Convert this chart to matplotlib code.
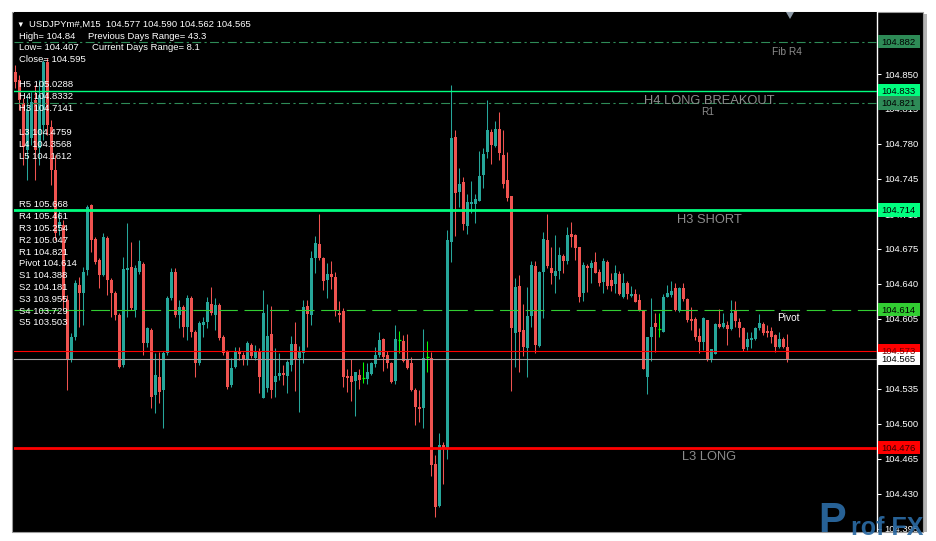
import matplotlib
matplotlib.use("Agg")
import matplotlib.pyplot as plt
import matplotlib.transforms as mtransforms
from matplotlib.patches import Rectangle, Polygon
import numpy as np

# ---------------- data (USDJPYm#, M15) ----------------
opens = [104.852, 104.844, 104.821, 104.774, 104.786, 104.824, 104.776, 104.799, 104.862, 104.797,
         104.754, 104.698, 104.699, 104.624, 104.564, 104.587, 104.639, 104.631, 104.654, 104.719,
         104.685, 104.664, 104.649, 104.686, 104.644, 104.631, 104.609, 104.559, 104.654, 104.657,
         104.614, 104.652, 104.660, 104.581, 104.594, 104.529, 104.547, 104.534, 104.571, 104.626,
         104.652, 104.609, 104.617, 104.597, 104.626, 104.592, 104.561, 104.599, 104.602, 104.620,
         104.609, 104.619, 104.587, 104.572, 104.539, 104.557, 104.573, 104.569, 104.564, 104.579,
         104.566, 104.573, 104.526, 104.536, 104.590, 104.542, 104.548, 104.551, 104.548, 104.559,
         104.580, 104.566, 104.571, 104.618, 104.609, 104.666, 104.680, 104.666, 104.644, 104.650,
         104.647, 104.611, 104.613, 104.548, 104.548, 104.543, 104.549, 104.546, 104.545, 104.550,
         104.560, 104.569, 104.585, 104.569, 104.561, 104.543, 104.584, 104.583, 104.565, 104.561,
         104.534, 104.517, 104.516, 104.567, 104.566, 104.460, 104.418, 104.479, 104.476, 104.682,
         104.787, 104.732, 104.742, 104.698, 104.720, 104.720, 104.723, 104.749, 104.772, 104.792,
         104.778, 104.795, 104.769, 104.744, 104.728, 104.591, 104.638, 104.594, 104.576, 104.608,
         104.658, 104.578, 104.652, 104.684, 104.656, 104.648, 104.653, 104.668, 104.663, 104.690,
         104.689, 104.677, 104.631, 104.658, 104.656, 104.662, 104.652, 104.642, 104.662, 104.644,
         104.640, 104.650, 104.627, 104.641, 104.628, 104.630, 104.624, 104.613, 104.547, 104.587,
         104.601, 104.595, 104.592, 104.627, 104.629, 104.636, 104.613, 104.636, 104.625, 104.605,
         104.605, 104.588, 104.582, 104.604, 104.564, 104.570, 104.600, 104.597, 104.599, 104.595,
         104.613, 104.602, 104.596, 104.577, 104.584, 104.585, 104.596, 104.600, 104.593, 104.593,
         104.589, 104.577, 104.585, 104.577]
highs = [104.859, 104.849, 104.826, 104.829, 104.832, 104.839, 104.844, 104.864, 104.866, 104.804,
         104.769, 104.714, 104.704, 104.629, 104.591, 104.644, 104.647, 104.657, 104.719, 104.720,
         104.687, 104.666, 104.691, 104.688, 104.646, 104.633, 104.611, 104.667, 104.701, 104.682,
         104.659, 104.684, 104.662, 104.597, 104.596, 104.571, 104.572, 104.573, 104.628, 104.656,
         104.656, 104.624, 104.619, 104.629, 104.628, 104.594, 104.603, 104.607, 104.627, 104.637,
         104.626, 104.621, 104.589, 104.574, 104.566, 104.577, 104.577, 104.572, 104.583, 104.581,
         104.579, 104.576, 104.634, 104.620, 104.618, 104.576, 104.571, 104.559, 104.564, 104.588,
         104.602, 104.578, 104.624, 104.624, 104.673, 104.688, 104.710, 104.667, 104.661, 104.663,
         104.652, 104.623, 104.616, 104.555, 104.565, 104.552, 104.555, 104.562, 104.561, 104.562,
         104.577, 104.592, 104.586, 104.573, 104.562, 104.599, 104.593, 104.589, 104.590, 104.567,
         104.536, 104.534, 104.595, 104.583, 104.572, 104.469, 104.491, 104.482, 104.694, 104.839,
         104.794, 104.756, 104.747, 104.730, 104.743, 104.730, 104.773, 104.776, 104.824, 104.795,
         104.803, 104.812, 104.794, 104.772, 104.728, 104.646, 104.649, 104.620, 104.637, 104.663,
         104.663, 104.653, 104.692, 104.710, 104.677, 104.689, 104.677, 104.670, 104.697, 104.702,
         104.690, 104.677, 104.662, 104.660, 104.664, 104.672, 104.655, 104.666, 104.664, 104.651,
         104.659, 104.653, 104.651, 104.643, 104.638, 104.635, 104.630, 104.613, 104.587, 104.626,
         104.611, 104.611, 104.630, 104.639, 104.643, 104.641, 104.637, 104.641, 104.626, 104.617,
         104.607, 104.596, 104.607, 104.604, 104.575, 104.601, 104.615, 104.611, 104.603, 104.624,
         104.623, 104.606, 104.597, 104.592, 104.592, 104.597, 104.610, 104.602, 104.599, 104.597,
         104.590, 104.592, 104.587, 104.590]
lows = [104.836, 104.814, 104.759, 104.744, 104.779, 104.744, 104.759, 104.784, 104.789, 104.739,
        104.684, 104.689, 104.614, 104.534, 104.562, 104.584, 104.597, 104.599, 104.649, 104.672,
        104.660, 104.636, 104.648, 104.629, 104.607, 104.604, 104.556, 104.557, 104.607, 104.614,
        104.607, 104.650, 104.569, 104.577, 104.516, 104.511, 104.521, 104.496, 104.569, 104.624,
        104.607, 104.596, 104.587, 104.584, 104.587, 104.547, 104.559, 104.587, 104.596, 104.609,
        104.594, 104.584, 104.569, 104.535, 104.537, 104.556, 104.564, 104.559, 104.559, 104.566,
        104.564, 104.531, 104.526, 104.532, 104.526, 104.527, 104.544, 104.539, 104.531, 104.553,
        104.533, 104.512, 104.561, 104.577, 104.599, 104.651, 104.664, 104.634, 104.626, 104.635,
        104.608, 104.602, 104.537, 104.532, 104.523, 104.508, 104.535, 104.541, 104.540, 104.549,
        104.557, 104.567, 104.553, 104.556, 104.541, 104.540, 104.571, 104.562, 104.555, 104.533,
        104.499, 104.502, 104.496, 104.552, 104.448, 104.407, 104.417, 104.440, 104.465, 104.662,
        104.688, 104.717, 104.694, 104.690, 104.711, 104.701, 104.723, 104.736, 104.766, 104.760,
        104.777, 104.764, 104.736, 104.723, 104.533, 104.557, 104.552, 104.568, 104.547, 104.597,
        104.571, 104.577, 104.606, 104.656, 104.640, 104.631, 104.645, 104.651, 104.660, 104.677,
        104.664, 104.622, 104.623, 104.632, 104.641, 104.651, 104.638, 104.631, 104.635, 104.633,
        104.631, 104.629, 104.626, 104.625, 104.627, 104.622, 104.613, 104.555, 104.530, 104.563,
        104.572, 104.587, 104.592, 104.627, 104.627, 104.613, 104.612, 104.623, 104.602, 104.594,
        104.584, 104.571, 104.574, 104.563, 104.562, 104.570, 104.596, 104.596, 104.579, 104.594,
        104.597, 104.587, 104.573, 104.574, 104.576, 104.584, 104.594, 104.589, 104.587, 104.581,
        104.572, 104.576, 104.576, 104.562]
closes = [104.842, 104.824, 104.777, 104.814, 104.822, 104.774, 104.829, 104.862, 104.799, 104.754,
          104.691, 104.702, 104.624, 104.564, 104.587, 104.641, 104.631, 104.652, 104.717, 104.684,
          104.662, 104.649, 104.687, 104.644, 104.631, 104.609, 104.557, 104.655, 104.656, 104.616,
          104.656, 104.663, 104.581, 104.596, 104.527, 104.549, 104.532, 104.571, 104.626, 104.652,
          104.609, 104.617, 104.597, 104.626, 104.592, 104.561, 104.601, 104.602, 104.622, 104.611,
          104.619, 104.586, 104.571, 104.537, 104.556, 104.572, 104.570, 104.565, 104.581, 104.568,
          104.573, 104.547, 104.611, 104.588, 104.534, 104.548, 104.551, 104.549, 104.562, 104.580,
          104.565, 104.573, 104.617, 104.610, 104.666, 104.681, 104.666, 104.643, 104.650, 104.647,
          104.614, 104.609, 104.547, 104.546, 104.542, 104.552, 104.544, 104.546, 104.552, 104.561,
          104.569, 104.584, 104.567, 104.561, 104.542, 104.585, 104.584, 104.563, 104.556, 104.534,
          104.517, 104.515, 104.566, 104.567, 104.459, 104.417, 104.479, 104.476, 104.684, 104.786,
          104.731, 104.740, 104.700, 104.722, 104.722, 104.725, 104.748, 104.770, 104.794, 104.779,
          104.795, 104.771, 104.740, 104.726, 104.596, 104.637, 104.592, 104.577, 104.608, 104.659,
          104.579, 104.652, 104.685, 104.658, 104.651, 104.653, 104.669, 104.663, 104.689, 104.687,
          104.676, 104.627, 104.659, 104.656, 104.661, 104.651, 104.641, 104.663, 104.638, 104.638,
          104.651, 104.630, 104.641, 104.630, 104.630, 104.622, 104.613, 104.555, 104.587, 104.597,
          104.597, 104.595, 104.627, 104.631, 104.633, 104.614, 104.636, 104.625, 104.604, 104.603,
          104.587, 104.582, 104.606, 104.564, 104.575, 104.600, 104.597, 104.601, 104.595, 104.611,
          104.603, 104.596, 104.575, 104.585, 104.586, 104.596, 104.601, 104.591, 104.591, 104.587,
          104.577, 104.585, 104.577, 104.565]

ytick_values = [104.395, 104.430, 104.465, 104.500, 104.535, 104.570, 104.605,
                104.640, 104.675, 104.710, 104.745, 104.780, 104.815, 104.850, 104.885]

level_prices = [104.882, 104.833, 104.821, 104.714, 104.614, 104.573, 104.565, 104.476]
level_names = ["Fib R4", "H4 LONG BREAKOUT", "R1", "H3 SHORT", "Pivot", "", "", "L3 LONG"]

header_line = "USDJPYm#,M15  104.577 104.590 104.562 104.565"
info_left = ["High= 104.84", "Low= 104.407", "Close= 104.595"]
info_right = ["Previous Days Range= 43.3", "Current Days Range= 8.1"]
camarilla_labels = ["H5 105.0288", "H4 104.8332", "H3 104.7141", "",
                    "L3 104.4759", "L4 104.3568", "L5 104.1612"]
pivot_labels = ["R5 105.668", "R4 105.461", "R3 105.254", "R2 105.047", "R1 104.821",
                "Pivot 104.614", "S1 104.388", "S2 104.181", "S3 103.955", "S4 103.729",
                "S5 103.503"]

# ---------------- styling ----------------
plt.rcParams['font.family'] = ['Liberation Sans', 'DejaVu Sans']
W, H = 936, 541
BULL, BEAR, DOJI = '#26A69A', '#EF5350', '#00FF00'

def fx(x):
    return x / W

def fy(y):
    return 1 - y / H

fig = plt.figure(figsize=(W / 100, H / 100), dpi=100, facecolor='white')

# chart window (black) with a light shadow on the right
fig.patches.append(Rectangle((fx(923), fy(532)), fx(927) - fx(923), fy(14) - fy(532),
                             transform=fig.transFigure, facecolor='#b4b4b4',
                             edgecolor='none', zorder=-2))
fig.patches.append(Rectangle((fx(11.5), fy(531.5)), fx(923) - fx(11.5), fy(11.5) - fy(531.5),
                             transform=fig.transFigure, facecolor='black',
                             edgecolor='#9a9a9a', linewidth=0.8, zorder=-1))

ax = fig.add_axes([fx(14), fy(531), fx(877) - fx(14), fy(12) - fy(531)])
ax.set_zorder(1)
ax.set_facecolor('black')

n = len(opens)
xs = np.arange(n)
o = np.array(opens)
h = np.array(highs)
l = np.array(lows)
c = np.array(closes)
up = c > o
dn = c < o
dj = c == o
cols = np.where(up, BULL, np.where(dn, BEAR, DOJI))

ax.vlines(xs, l, h, colors=cols, linewidth=0.75, zorder=2)
body_bottom = np.minimum(o, c)
body_h = np.abs(c - o)
ax.bar(xs[~dj], body_h[~dj], bottom=body_bottom[~dj], width=0.75,
       color=cols[~dj], linewidth=0, zorder=3)
ax.hlines(o[dj], xs[dj] - 0.45, xs[dj] + 0.45, colors=DOJI, linewidth=0.9, zorder=3)

ax.set_xlim(-0.325, 215.425)
ax.set_ylim(104.393, 104.912)

# horizontal levels
level_styles = [
    dict(color='#2E8B57', lw=0.8, ls=(0, (8, 3, 2, 3))),
    dict(color='#00FF7F', lw=1.0, ls='-'),
    dict(color='#2E8B57', lw=0.8, ls=(0, (8, 3, 2, 3))),
    dict(color='#00FF7F', lw=2.0, ls='-'),
    dict(color='#32CD32', lw=0.8, ls=(0, (17, 6))),
    dict(color='#FF0000', lw=0.8, ls='-'),
    dict(color='#A0A0A0', lw=0.8, ls='-'),
    dict(color='#FF0000', lw=2.0, ls='-'),
]
for p, st in zip(level_prices, level_styles):
    ax.axhline(p, color=st['color'], linewidth=st['lw'], linestyle=st['ls'], zorder=4)

# axis styling
for s in ['left', 'top', 'bottom']:
    ax.spines[s].set_visible(False)
ax.spines['right'].set_color('white')
ax.spines['right'].set_linewidth(1.0)
ax.set_xticks([])
ax.set_yticks(ytick_values)
ax.set_yticklabels([f"{t:.3f}" for t in ytick_values])
ax.tick_params(axis='y', which='both', right=True, left=False, labelright=True,
               labelleft=False, direction='out', length=3, width=0.75,
               colors='white', labelsize=6.8, pad=2.5)

# price boxes on the right axis
blend = mtransforms.blended_transform_factory(fig.transFigure, ax.transData)
box_faces = ['#2E8B57', '#00FF7F', '#2E8B57', '#00FF7F', '#32CD32', '#FF0000', '#FFFFFF', '#FF0000']
box_texts = ['black', 'black', 'black', 'black', 'black', '#700000', 'black', '#300000']
for p, fc, tc in zip(level_prices, box_faces, box_texts):
    ax.add_patch(Rectangle((fx(878), p - 0.0065), fx(920) - fx(878), 0.013,
                           transform=blend, facecolor=fc, edgecolor='none',
                           clip_on=False, zorder=6))
    ax.text(fx(881), p - 0.0002, f"{p:.3f}", transform=blend, color=tc, fontsize=6.8,
            va='center', ha='left', clip_on=False, zorder=7)

# level labels inside chart
label_pos = {
    "Fib R4": (787, 55, '#8c8c8c', 7.3),
    "H4 LONG BREAKOUT": (709, 104, '#8c8c8c', 9.3),
    "R1": (708, 115, '#8c8c8c', 7.3),
    "H3 SHORT": (709, 223, '#8c8c8c', 9.3),
    "Pivot": (788, 321, 'white', 7.3),
    "L3 LONG": (709, 460, '#8c8c8c', 9.3),
}
for name in level_names:
    if name in label_pos:
        x0, y0, col, fs = label_pos[name]
        fig.text(fx(x0), fy(y0), name, color=col, fontsize=fs, ha='center',
                 va='baseline', zorder=8)

# header / info texts (top-left)
fig.text(fx(16), fy(26.5), "\u25BC", color='white', fontsize=5.5, va='baseline', zorder=8)
fig.text(fx(29), fy(27.3), header_line, color='white', fontsize=6.8, va='baseline', zorder=8)
for i, t in enumerate(info_left):
    fig.text(fx(19), fy(38.7 + 11.8 * i), t, color='white', fontsize=6.8, va='baseline', zorder=8)
fig.text(fx(88.5), fy(38.7), info_right[0], color='white', fontsize=6.8, va='baseline', zorder=8)
fig.text(fx(91.5), fy(50.5), info_right[1], color='white', fontsize=6.8, va='baseline', zorder=8)
for i, t in enumerate(camarilla_labels):
    if t:
        fig.text(fx(19), fy(87.3 + 11.9 * i), t, color='white', fontsize=6.8,
                 va='baseline', zorder=8)
for i, t in enumerate(pivot_labels):
    fig.text(fx(19), fy(207.3 + 11.8 * i), t, color='white', fontsize=6.8,
             va='baseline', zorder=8)

# chart-shift marker at top
fig.patches.append(Polygon([(fx(786), fy(12)), (fx(794), fy(12)), (fx(790), fy(19))],
                           closed=True, transform=fig.transFigure,
                           facecolor='#8d9aa6', edgecolor='none', zorder=5))

# watermark logo
fig.text(fx(818), fy(532), "P", color='#2b6aa3', fontsize=30, fontweight='bold',
         va='baseline', alpha=0.92, zorder=9)
fig.text(fx(851), fy(535), "rof FX", color='#2b6aa3', fontsize=18, fontweight='bold',
         va='baseline', alpha=0.92, zorder=9)

fig.savefig('out.png', dpi=100, facecolor='white')
